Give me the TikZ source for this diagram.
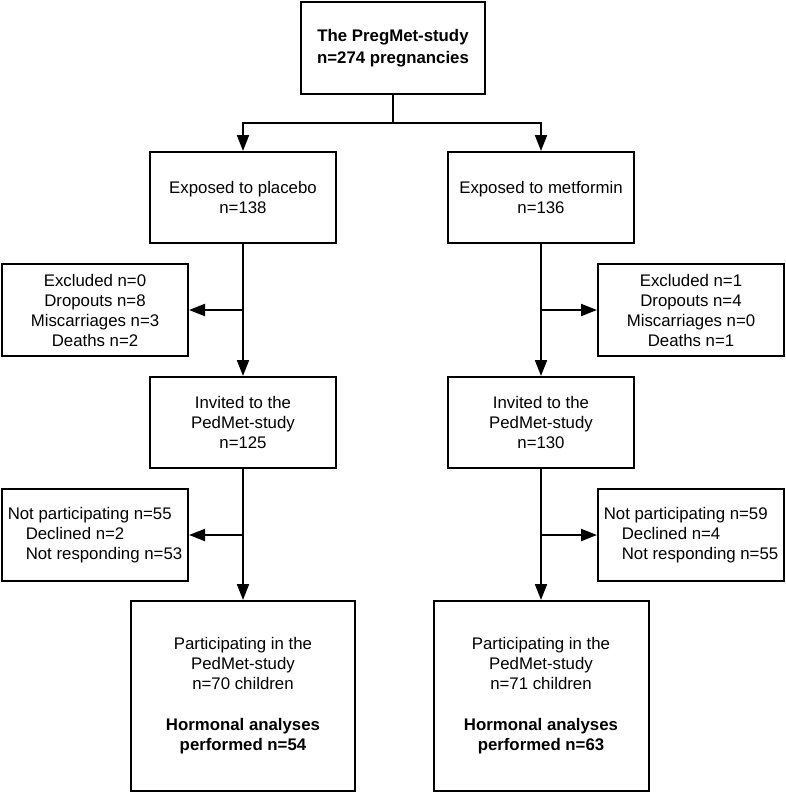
\documentclass[tikz,border=0pt]{standalone}
\usepackage{fontspec}
\setmainfont{Liberation Sans}
\usetikzlibrary{arrows.meta}

\begin{document}
\begin{tikzpicture}[
    x=1pt, y=-1pt,
    box/.style={draw, line width=2pt, inner sep=0pt, align=center,
      font=\fontsize{16.8}{20}\selectfont},
    sidebox/.style={box, minimum width=186pt, minimum height=92pt},
    midbox/.style={box, minimum width=186pt, minimum height=91pt},
    arr/.style={line width=2pt, -{Triangle[length=16pt,width=12pt]}}
    ]
\useasboundingbox (0,0) rectangle (786,793);
	\node [box, minimum width=184pt, minimum height=92pt,
	  font=\bfseries\fontsize{16.8}{22}\selectfont] (preg) at (393,48)
	  {The PregMet-study\\n=274 pregnancies};
	\coordinate (split) at (393,123);
	\node [midbox] (plac) at (243,197.5) {Exposed to placebo\\n=138};
	\node [midbox] (metf) at (541,197.5) {Exposed to metformin\\n=136};
	\node [sidebox] (exclP) at (95,310)
	  {Excluded n=0\\Dropouts n=8\\Miscarriages n=3\\Deaths n=2};
	\node [sidebox] (exclM) at (691,310)
	  {Excluded n=1\\Dropouts n=4\\Miscarriages n=0\\Deaths n=1};
	\node [midbox] (invP) at (243,422.5) {Invited to the\\PedMet-study\\n=125};
	\node [midbox] (invM) at (541,422.5) {Invited to the\\PedMet-study\\n=130};
	\node [sidebox, align=left] (notP) at (95,535)
	  {Not participating n=55\\\hspace*{18pt}Declined n=2\\\hspace*{18pt}Not responding n=53};
	\node [sidebox, align=left] (notM) at (691,535)
	  {Not participating n=59\\\hspace*{18pt}Declined n=4\\\hspace*{18pt}Not responding n=55};
	\node [box, minimum width=224pt, minimum height=190pt] (partP) at (243,696)
	  {Participating in the\\PedMet-study\\n=70 children\\[21pt]
	   \textbf{Hormonal analyses}\\\textbf{performed n=54}};
	\node [box, minimum width=215pt, minimum height=190pt] (partM) at (541,696)
	  {Participating in the\\PedMet-study\\n=71 children\\[21pt]
	   \textbf{Hormonal analyses}\\\textbf{performed n=63}};

	\draw [line width=2pt] (preg.south) -- (split);
	\draw [arr] (split) -| (plac.north);
	\draw [arr] (split) -| (metf.north);
	\draw [arr] (plac.south) -- (invP.north);
	\draw [arr] (metf.south) -- (invM.north);
	\draw [arr] (plac.south |- exclP.east) -- (exclP.east);
	\draw [arr] (metf.south |- exclM.west) -- (exclM.west);
	\draw [arr] (invP.south) -- (partP.north);
	\draw [arr] (invM.south) -- (partM.north);
	\draw [arr] (invP.south |- notP.east) -- (notP.east);
	\draw [arr] (invM.south |- notM.west) -- (notM.west);
  \end{tikzpicture}
\end{document}
